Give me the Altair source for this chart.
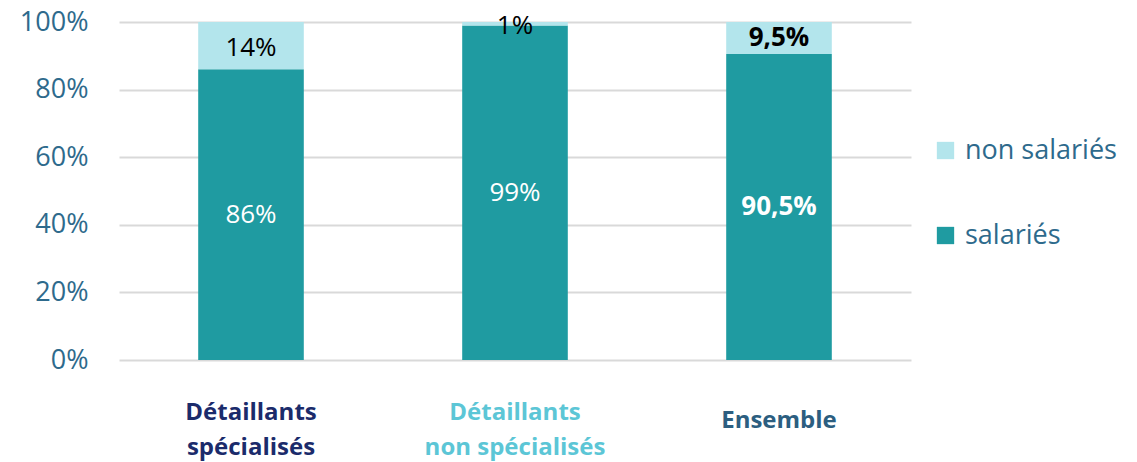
import altair as alt
import pandas as pd

categories = ["Détaillants spécialisés", "Détaillants non spécialisés", "Ensemble"]
cat_lines = ["Détaillants\nspécialisés", "Détaillants\nnon spécialisés", "Ensemble"]
cat_colors = ["#1B2B6B", "#5CC6D6", "#2C5E80"]
salaries = [86, 99, 90.5]
non_salaries = [14, 1, 9.5]
lab_salaries = ["86%", "99%", "90,5%"]
lab_non = ["14%", "1%", "9,5%"]
bold = [False, False, True]
series = ["non salariés", "salariés"]
series_colors = ["#B3E5EC", "#1F9BA1"]

FONT = "Open Sans"

rows = []
for i, c in enumerate(categories):
    rows.append({"cat": c, "serie": "salariés", "val": salaries[i], "start": 0,
                 "end": salaries[i], "lab": lab_salaries[i], "ord": 1,
                 "bold": bold[i]})
    rows.append({"cat": c, "serie": "non salariés", "val": non_salaries[i],
                 "start": salaries[i], "end": salaries[i] + non_salaries[i],
                 "lab": lab_non[i], "ord": 2, "bold": bold[i]})
df = pd.DataFrame(rows)
df["mid"] = (df["start"] + df["end"]) / 2

xlab = pd.DataFrame({"cat": categories, "txt": cat_lines, "col": cat_colors})

x = alt.X("cat:N", sort=categories, title=None,
          scale=alt.Scale(paddingInner=0.6, paddingOuter=0.3),
          axis=alt.Axis(labels=False, ticks=False, domain=False, grid=False))

bars = alt.Chart(df).mark_bar().encode(
    x=x,
    y=alt.Y("start:Q", title=None, scale=alt.Scale(domain=[0, 100]),
            axis=alt.Axis(values=[0, 20, 40, 60, 80, 100], labelExpr="datum.value + '%'",
                          labelFontSize=27, labelColor="#2E6A8C", labelFont=FONT,
                          labelPadding=31, ticks=False, domain=False,
                          grid=True, gridColor="#D9D9D9", gridWidth=2)),
    y2="end:Q",
    color=alt.Color("serie:N", scale=alt.Scale(domain=series, range=series_colors),
                    legend=alt.Legend(title=None, orient="none", legendX=813, legendY=115,
                                      symbolType="square", symbolSize=300,
                                      symbolStrokeWidth=0, labelFontSize=27,
                                      labelFont=FONT, labelColor="#2E6A8C",
                                      rowPadding=57, labelOffset=6)),
    order=alt.Order("ord:Q"),
)

base_text = alt.Chart(df).encode(
    x=alt.X("cat:N", sort=categories),
    y=alt.Y("mid:Q"),
    text="lab:N",
)
txt_sal_norm = base_text.transform_filter("datum.serie == 'salariés' && !datum.bold").mark_text(
    font=FONT, fontSize=26, color="white")
txt_sal_bold = base_text.transform_filter("datum.serie == 'salariés' && datum.bold").mark_text(
    font=FONT, fontSize=26, color="white", fontWeight="bold")
txt_non_norm = base_text.transform_filter("datum.serie == 'non salariés' && !datum.bold").mark_text(
    font=FONT, fontSize=26, color="black", dy=2)
txt_non_bold = base_text.transform_filter("datum.serie == 'non salariés' && datum.bold").mark_text(
    font=FONT, fontSize=26, color="black", fontWeight="bold")

xlabels_two = alt.Chart(xlab).transform_filter("indexof(datum.txt, '\\n') >= 0").mark_text(
    font=FONT, fontSize=24, fontWeight="bold", lineBreak="\n", baseline="middle",
    lineHeight=35).encode(
    x=alt.X("cat:N", sort=categories),
    y=alt.value(391),
    text="txt:N",
    color=alt.Color("col:N", scale=None),
)
xlabels_one = alt.Chart(xlab).transform_filter("indexof(datum.txt, '\\n') < 0").mark_text(
    font=FONT, fontSize=24, fontWeight="bold", baseline="middle").encode(
    x=alt.X("cat:N", sort=categories),
    y=alt.value(399),
    text="txt:N",
    color=alt.Color("col:N", scale=None),
)

chart = alt.layer(bars, txt_sal_norm, txt_sal_bold, txt_non_norm, txt_non_bold,
                  xlabels_two, xlabels_one).properties(
    width=792, height=338, padding={"left": 11, "top": 0, "right": 5, "bottom": 5}
).configure_view(stroke=None)

chart.save("out.html", embed_options={"renderer": "svg", "actions": False})
